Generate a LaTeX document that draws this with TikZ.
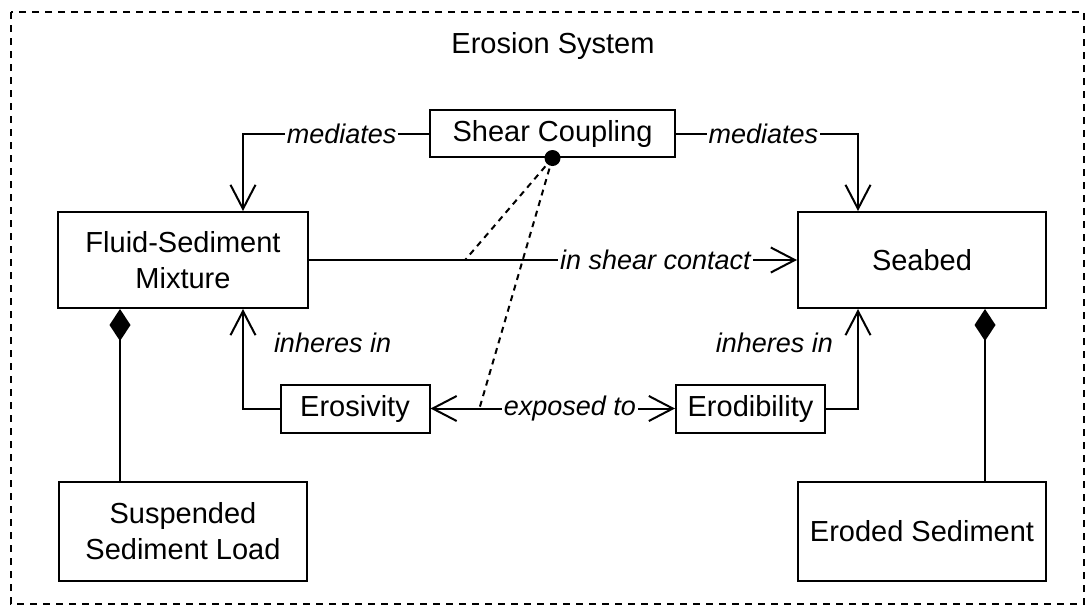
\documentclass[tikz,border=0pt]{standalone}
\usepackage{fontspec}
\setmainfont{Liberation Sans}
\usepackage{tikz}
\usetikzlibrary{arrows.meta}

\begin{document}
\begin{tikzpicture}[x=0.5pt,y=-0.5pt,
  >={Straight Barb[length=12pt,width=12.5pt]},
  cls/.style={draw,line width=1pt,align=center,inner sep=0pt,font=\fontsize{14.5}{18}\selectfont},
  rel/.style={line width=1pt,->},
  lbl/.style={fill=white,inner sep=1pt,font=\fontsize{13.5}{16}\selectfont\itshape},
  comp/.style={line width=1pt,-{Diamond[length=16pt,width=10.5pt]}},
  link/.style={line width=1pt,dash pattern=on 3pt off 2.5pt}]
\useasboundingbox (0,0) rectangle (1086,606);
\draw[line width=0.8pt,dash pattern=on 3.5pt off 3pt] (11,12) rectangle (1084,604);
\node[font=\fontsize{14.5}{18}\selectfont] (title) at (553,46) {Erosion System};
\node[cls,minimum width=122.5pt,minimum height=23.5pt] (shear) at (552.5,133.5) {Shear Coupling};
\node[cls,minimum width=125pt,minimum height=48pt] (fsm) at (183,260) {Fluid-Sediment\\Mixture};
\node[cls,minimum width=124pt,minimum height=48pt] (seabed) at (922,260) {Seabed};
\node[cls,minimum width=74.5pt,minimum height=24pt] (erosivity) at (355,408.5) {Erosivity};
\node[cls,minimum width=74.5pt,minimum height=24pt] (erodibility) at (750.5,408.5) {Erodibility};
\node[cls,minimum width=124pt,minimum height=49.5pt] (ssl) at (183,531.5) {Suspended\\Sediment Load};
\node[cls,minimum width=124pt,minimum height=49.5pt] (eroded) at (922,531.5) {Eroded Sediment};
\draw[rel] (shear.west) -| node[lbl,pos=0.235] {mediates} ([xshift=30pt]fsm.north);
\draw[rel] (shear.east) -| node[lbl,pos=0.24] {mediates} ([xshift=-32pt]seabed.north);
\draw[rel] (fsm.east) -- coordinate[pos=0.32] (contact) node[lbl,pos=0.71] {in shear contact} (seabed.west);
\draw[rel] (erosivity.west) -| node[lbl,pos=0.83,right=14pt] {inheres in} ([xshift=30pt]fsm.south);
\draw[rel] (erodibility.east) -| node[lbl,pos=0.83,left=11pt] {inheres in} ([xshift=-32pt]seabed.south);
\draw[rel,<->] (erosivity.east) -- coordinate[pos=0.2] (exposure) node[lbl,pos=0.57] {exposed to} (erodibility.west);
\draw[link] (shear.south) -- (contact);
\draw[link] (shear.south) -- (exposure);
\fill (shear.south) circle (4pt);
\draw[comp] ([xshift=-31.5pt]ssl.north) -- ([xshift=-31.5pt]fsm.south);
\draw[comp] ([xshift=31.5pt]eroded.north) -- ([xshift=31.5pt]seabed.south);
\end{tikzpicture}
\end{document}
